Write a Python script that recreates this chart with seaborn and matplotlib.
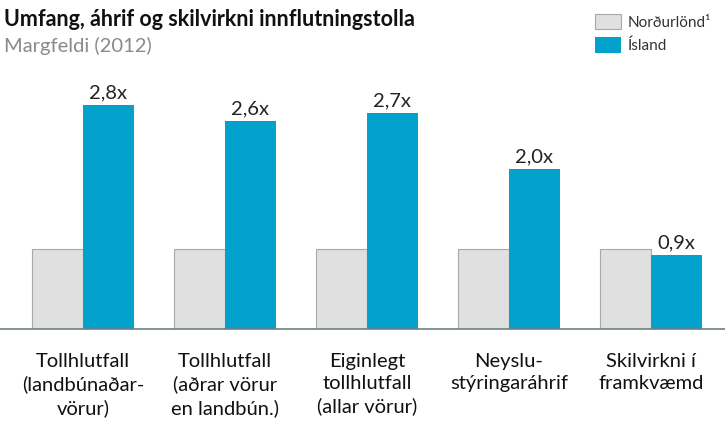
import pandas as pd
import matplotlib
matplotlib.use("Agg")
import matplotlib.pyplot as plt
import seaborn as sns

# data
categories = ["Tollhlutfall\n(landbúnaðar-\nvörur)",
              "Tollhlutfall\n(aðrar vörur\nen landbún.)",
              "Eiginlegt\ntollhlutfall\n(allar vörur)",
              "Neyslu-\nstýringaráhrif",
              "Skilvirkni í\nframkvæmd"]
nordurlond = [1.0, 1.0, 1.0, 1.0, 1.0]
island = [2.8, 2.6, 2.7, 2.0, 0.92]
value_labels = ["2,8x", "2,6x", "2,7x", "2,0x", "0,9x"]
series = ["Norðurlönd¹", "Ísland"]

df = pd.DataFrame({
    "cat": categories * 2,
    "val": nordurlond + island,
    "series": [series[0]] * 5 + [series[1]] * 5,
})

sns.set_style("white")
plt.rcParams["font.family"] = ["Lato", "DejaVu Sans"]

fig = plt.figure(figsize=(7.25, 4.24), dpi=100)
ax = fig.add_axes([0, 95 / 424, 1, 280 / 424])

sns.barplot(data=df, x="cat", y="val", hue="series", ax=ax,
            palette=["#e0e0e0", "#02a2cc"], width=0.712, legend=False,
            saturation=1)

for bar in ax.containers[0]:
    bar.set_edgecolor("#a8a8a8")
    bar.set_linewidth(0.8)
for bar in ax.containers[1]:
    bar.set_edgecolor("none")

ax.set_xlim(-83 / 142, 642 / 142)
ax.set_ylim(0, 3.5)

for bar, lab in zip(ax.containers[1], value_labels):
    ax.text(bar.get_x() + bar.get_width() / 2, bar.get_height() + 0.05, lab,
            ha="center", va="bottom", fontsize=14.5, color="#222222")

ax.set_xlabel("")
ax.set_ylabel("")
ax.set_yticks([])
ax.tick_params(axis="x", length=0, pad=17, labelsize=14.5, labelcolor="#111111")
for lab in ax.get_xticklabels():
    lab.set_linespacing(1.38)
    lab.set_va("top")
sns.despine(ax=ax, left=True, right=True, top=True)
ax.spines["bottom"].set_color("#6f7f84")
ax.spines["bottom"].set_linewidth(1.2)

fig.text(4 / 725, 1 - 20 / 424, "Umfang, áhrif og skilvirkni innflutningstolla",
         fontsize=15.5, fontweight="bold", color="#111111", va="center")
fig.text(4 / 725, 1 - 46 / 424, "Margfeldi (2012)",
         fontsize=14.5, color="#8a8a8a", va="center")

fig.legend(handles=[ax.containers[0][0], ax.containers[1][0]], labels=series,
           loc="upper left", bbox_to_anchor=(584 / 725, 1 - 3 / 424),
           frameon=False, fontsize=11, handlelength=1.7, handleheight=1.18,
           handletextpad=0.45, labelspacing=0.5, borderpad=0.2,
           labelcolor="#333333")

fig.savefig("out.png", dpi=100)
